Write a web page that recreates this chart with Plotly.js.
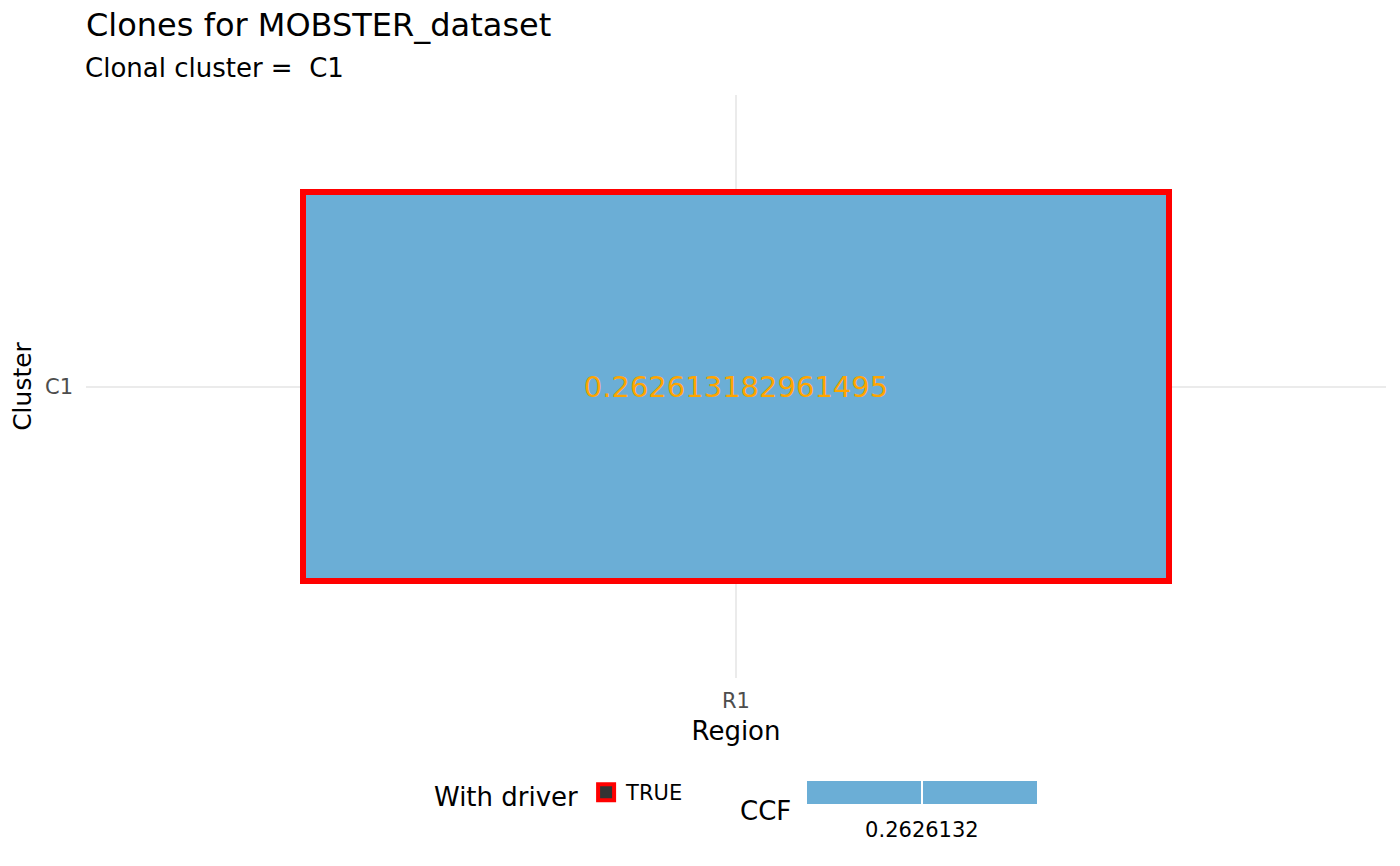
<!DOCTYPE html>
<html>
<head>
<meta charset="utf-8">
<script src="https://cdn.plot.ly/plotly-3.0.1.min.js"></script>
<style>html,body{margin:0;padding:0;background:#fff;}#chart{width:1400px;height:866px;}</style>
</head>
<body>
<div id="chart"></div>
<script>
// Data
const regions = ['R1'];
const clusters = ['C1'];
const ccf = [0.262613182961495];
const ccfLabels = ['0.262613182961495'];
const withDriver = ['TRUE'];
const colorbarTickLabels = ['0.2626132'];

const FONT = 'DejaVu Sans, Verdana, sans-serif';
const TILE_BLUE = '#6BAED6';
const clusterIndex = clusters.map((c, i) => i);
const cmin = ccf[0] - 0.001, cmax = ccf[0] + 0.001;

const tileTrace = {
  type: 'bar',
  x: regions,
  y: clusters.map(() => 1),
  base: clusterIndex.map(i => i - 0.5),
  width: 1,
  text: ccfLabels,
  texttemplate: '%{text}',
  textposition: 'inside',
  insidetextanchor: 'middle',
  textangle: 0,
  constraintext: 'none',
  textfont: {family: FONT, size: 29, color: '#FFA500'},
  marker: {
    color: ccf,
    colorscale: [[0, TILE_BLUE], [1, TILE_BLUE]],
    cmin: cmin, cmax: cmax,
    showscale: false,
    line: {color: withDriver.map(d => d === 'TRUE' ? '#FF0000' : 'rgba(0,0,0,0)'), width: 6}
  },
  hoverinfo: 'x+y+text',
  showlegend: false
};

// Colour bar (CCF legend) with the white tick mark as a thin band at the value
const colorbarTrace = {
  type: 'scatter',
  mode: 'markers',
  x: [null], y: [null],
  marker: {
    color: ccf,
    colorscale: [[0, TILE_BLUE], [0.4975, TILE_BLUE], [0.4975, '#FFFFFF'], [0.5025, '#FFFFFF'], [0.5025, TILE_BLUE], [1, TILE_BLUE]],
    cmin: cmin, cmax: cmax,
    showscale: true,
    colorbar: {
      orientation: 'h',
      lenmode: 'pixels', len: 230,
      thicknessmode: 'pixels', thickness: 23,
      x: 0.643, xanchor: 'center',
      y: -0.1767, yanchor: 'top',
      xpad: 0, ypad: 0,
      outlinewidth: 0,
      tickmode: 'array',
      tickvals: ccf,
      ticktext: colorbarTickLabels,
      ticks: 'outside', ticklen: 8, tickcolor: 'rgba(0,0,0,0)', tickwidth: 1,
      tickfont: {family: FONT, size: 21, color: '#000000'},
      title: {text: ''}
    }
  },
  showlegend: false,
  hoverinfo: 'skip'
};

const legendTrace = {
  type: 'scatter',
  mode: 'markers',
  x: [null], y: [null],
  name: withDriver[0],
  marker: {symbol: 'square', size: 16, color: '#333333', line: {color: '#FF0000', width: 4}},
  showlegend: true,
  hoverinfo: 'skip'
};

const layout = {
  width: 1400, height: 866,
  paper_bgcolor: '#FFFFFF', plot_bgcolor: '#FFFFFF',
  font: {family: FONT, color: '#000000'},
  margin: {l: 86, r: 14, t: 95, b: 188},
  title: {
    text: 'Clones for MOBSTER_dataset',
    font: {family: FONT, size: 32, color: '#000000'},
    xref: 'paper', x: 0, xanchor: 'left',
    yref: 'container', y: 1 - 25/866, yanchor: 'middle'
  },
  annotations: [
    {text: 'Clonal cluster = \u00a0' + clusters[0], xref: 'paper', yref: 'paper',
     x: 0, xanchor: 'left', xshift: -3, y: 1 + (95 - 68)/583, yanchor: 'middle', showarrow: false,
     font: {family: FONT, size: 26, color: '#000000'}},
    {text: 'CCF', xref: 'paper', yref: 'paper', x: (741 - 86)/1300, xanchor: 'left', xshift: -3,
     y: (678 - 811)/583, yanchor: 'middle', showarrow: false,
     font: {family: FONT, size: 26, color: '#000000'}}
  ],
  xaxis: {
    type: 'category',
    range: [-0.75, 0.75],
    showgrid: true, gridcolor: '#EBEBEB', gridwidth: 2,
    zeroline: false, showline: false, ticks: '',
    ticklabelstandoff: 8,
    tickfont: {family: FONT, size: 21, color: '#4D4D4D'},
    title: {text: 'Region', font: {family: FONT, size: 26, color: '#000000'}, standoff: 9},
    fixedrange: true
  },
  yaxis: {
    type: 'linear',
    range: [-0.75, 0.75],
    tickmode: 'array', tickvals: clusterIndex, ticktext: clusters,
    showgrid: true, gridcolor: '#EBEBEB', gridwidth: 2,
    zeroline: false, showline: false, ticks: '',
    ticklabelstandoff: 12,
    tickfont: {family: FONT, size: 21, color: '#4D4D4D'},
    title: {text: 'Cluster', font: {family: FONT, size: 25, color: '#000000'}, standoff: 6},
    fixedrange: true
  },
  showlegend: true,
  legend: {
    orientation: 'h',
    x: (432 - 86)/1300, xanchor: 'left',
    y: (678 - 794)/583, yanchor: 'middle',
    title: {text: 'With driver', side: 'left', font: {family: FONT, size: 26, color: '#000000'}},
    font: {family: FONT, size: 21, color: '#000000'},
    bgcolor: 'rgba(0,0,0,0)'
  },
  bargap: 0
};

Plotly.newPlot('chart', [tileTrace, colorbarTrace, legendTrace], layout, {displayModeBar: false, responsive: false});
</script>
</body>
</html>
